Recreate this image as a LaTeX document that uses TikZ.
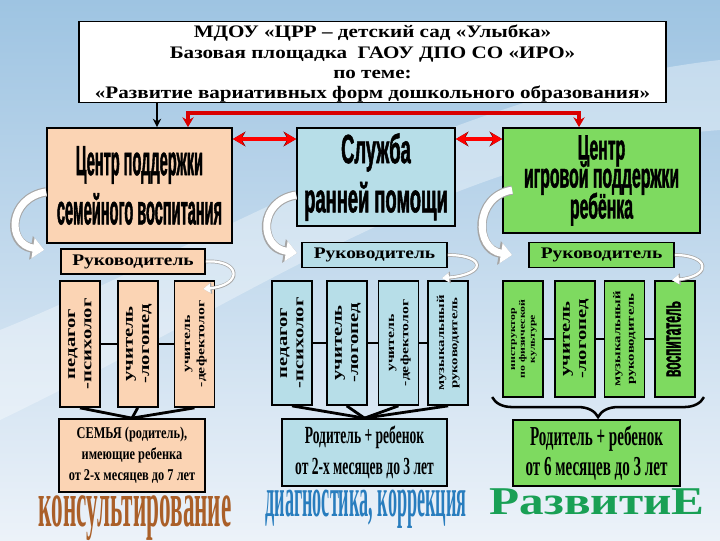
\documentclass[tikz,border=0pt]{standalone}
\usepackage{fontspec}
\usepackage{graphicx}
\usetikzlibrary{arrows.meta, positioning, decorations.pathreplacing}

\setmainfont{Liberation Serif}
\newfontfamily\headfont[FakeStretch=1.2]{Liberation Serif}
\newfontfamily\bigfont[FakeStretch=0.45, BoldFeatures={FakeBold=1.2}]{Liberation Sans}
\newfontfamily\stafffont[FakeStretch=1.4]{Liberation Serif}
\newfontfamily\famfont[FakeStretch=0.75]{Liberation Serif}
\newfontfamily\kidfont[FakeStretch=0.55]{Liberation Serif}
\newfontfamily\widefont[FakeStretch=1.25]{Liberation Serif}

\definecolor{bgtop}{RGB}{158,196,226}
\definecolor{bgbot}{RGB}{236,242,249}
\definecolor{peach}{RGB}{251,212,180}
\definecolor{servblue}{RGB}{183,222,232}
\definecolor{gamegreen}{RGB}{126,218,96}
\definecolor{consbrown}{RGB}{170,95,40}
\definecolor{diagblue}{RGB}{40,125,190}
\definecolor{razvgreen}{RGB}{25,160,85}

\newcommand{\vtext}[1]{\rotatebox{90}{\begin{tabular}{@{}c@{}}#1\end{tabular}}}

\begin{document}
\begin{tikzpicture}[
            x = 0.025cm,
            y = -0.025cm,
            > = Stealth,
            semithick
        ]

        \tikzset{
            box/.style = {draw = black, line width = 1.2pt, inner sep = 0pt, align = center},
            headbox/.style = {box, fill = white, text depth = 0pt, font = {\headfont\bfseries\fontsize{12.5}{14.5}\selectfont}},
            mainbox/.style = {box},
            chiefbox/.style = {box, minimum height = 0.62cm, font = {\headfont\bfseries\fontsize{11.5}{13}\selectfont}},
            staffbox/.style = {box, minimum width = 1cm, font = {\stafffont\bfseries\fontsize{10.5}{11.5}\selectfont}},
            kidbox/.style = {box, font = {\kidfont\bfseries\fontsize{17.5}{22}\selectfont}},
            wordart/.style = {anchor = north, inner sep = 0pt},
            link/.style = {draw = black, line width = 2pt},
            blackarrow/.style = {draw = black, line width = 1.2pt, -{Stealth[length=6pt,width=6pt]}},
            redlink/.style = {draw = red!85!black, line width = 2.6pt, {Stealth[length=7pt,width=8pt]}-{Stealth[length=7pt,width=8pt]}},
            dblred/.style = {draw = red, line width = 2.2pt, {Stealth[length=8pt,width=9pt]}-{Stealth[length=8pt,width=9pt]},
                preaction = {draw = red!50!black, line width = 3.2pt, {Stealth[length=9pt,width=10.5pt]}-{Stealth[length=9pt,width=10.5pt]}}},
            bigcurve/.style = {draw = white, line width = 5pt, -{Triangle[length=8pt,width=14pt]},
                preaction = {draw = gray!70, line width = 6.6pt, -{Triangle[length=9.5pt,width=16.5pt]}}},
            thincurve/.style = {draw = white, line width = 1.6pt, -{Triangle[length=5pt,width=6.5pt]},
                preaction = {draw = gray!70, line width = 2.6pt, -{Triangle[length=6pt,width=8pt]}}},
            brace/.style = {draw = black, line width = 1.8pt, decorate, decoration = {brace, mirror, amplitude = 0.5cm}}
        }

        % background
        \useasboundingbox (0,0) rectangle (720,540);
        \fill[top color = bgtop, bottom color = bgbot] (0,0) rectangle (720,540);
        \fill[white, opacity = 0.35] (0,330) .. controls (200,250) and (450,90) .. (720,60)
            -- (720,130) .. controls (450,150) and (250,300) .. (0,420) -- cycle;

        % title
        \node[headbox, minimum width = 14.675cm, minimum height = 2.025cm] (head) at (372.5,62)
            {МДОУ «ЦРР – детский сад «Улыбка»\\Базовая площадка \ ГАОУ ДПО СО «ИРО»\\по теме:\\«Развитие вариативных форм дошкольного образования»};

        % three services
        \node[mainbox, fill = peach, minimum width = 4.625cm, minimum height = 2.875cm,
              font = {\bigfont\bfseries\fontsize{23}{35}\selectfont\lineskiplimit=-30pt}] (cfam) at (139.5,185.5)
            {\scalebox{1}[1.3]{Центр поддержки}\\\scalebox{1}[1.3]{семейного воспитания}};
        \node[mainbox, fill = servblue, minimum width = 3.95cm, minimum height = 2.45cm,
              font = {\bigfont\bfseries\fontsize{29}{35}\selectfont\lineskiplimit=-30pt}] (serv) at (376,177)
            {Служба\\ранней помощи};
        \node[mainbox, fill = gamegreen, minimum width = 4.925cm, minimum height = 2.625cm,
              font = {\bigfont\bfseries\fontsize{25}{20}\selectfont\lineskiplimit=-30pt}] (cgame) at (601.5,180.5)
            {Центр\\игровой поддержки\\[2pt]ребёнка};

        \node[chiefbox, fill = peach, minimum width = 3.6cm] (chief1) at (133,261.5) {Руководитель};
        \node[chiefbox, fill = servblue, minimum width = 3.625cm] (chief2) at (374.5,255) {Руководитель};
        \node[chiefbox, fill = gamegreen, minimum width = 3.625cm] (chief3) at (601.5,255) {Руководитель};

        % staff
        \node[staffbox, fill = peach, minimum height = 3.15cm] (l1) at (80,344) {\vtext{педагог\\-психолог}};
        \node[staffbox, fill = peach, minimum height = 3.15cm] (l2) [right = 0.4cm of l1] {\vtext{учитель\\-логопед}};
        \node[staffbox, fill = peach, minimum height = 3.15cm, font = {\stafffont\bfseries\fontsize{8}{10}\selectfont}]
            (l3) [right = 0.375cm of l2] {\vtext{учитель\\-дефектолог}};

        \node[staffbox, fill = servblue, minimum height = 3.1cm] (m1) at (292,343) {\vtext{педагог\\-психолог}};
        \node[staffbox, fill = servblue, minimum height = 3.1cm] (m2) [right = 0.325cm of m1] {\vtext{учитель\\-логопед}};
        \node[staffbox, fill = servblue, minimum height = 3.1cm, font = {\stafffont\bfseries\fontsize{8}{10}\selectfont}]
            (m3) [right = 0.25cm of m2] {\vtext{учитель\\-дефектолог}};
        \node[staffbox, fill = servblue, minimum height = 3.1cm, font = {\stafffont\bfseries\fontsize{7.5}{9.5}\selectfont}]
            (m4) [right = 0.2cm of m3] {\vtext{музыкальный\\руководитель}};

        \node[staffbox, fill = gamegreen, minimum height = 2.9cm, font = {\stafffont\bfseries\fontsize{6}{7}\selectfont}]
            (r1) at (523,339) {\vtext{инструктор\\по физической\\культуре}};
        \node[staffbox, fill = gamegreen, minimum height = 2.9cm] (r2) [right = 0.25cm of r1] {\vtext{учитель\\-логопед}};
        \node[staffbox, fill = gamegreen, minimum height = 2.9cm, font = {\stafffont\bfseries\fontsize{7.5}{9.5}\selectfont}]
            (r3) [right = 0.2cm of r2] {\vtext{музыкальный\\руководитель}};
        \node[staffbox, fill = gamegreen, minimum height = 2.9cm, font = {\bigfont\bfseries\fontsize{19}{20}\selectfont}]
            (r4) [right = 0.225cm of r3] {\vtext{воспитатель}};

        % who comes
        \node[box, fill = peach, minimum width = 3.65cm, minimum height = 1.825cm,
              font = {\famfont\bfseries\fontsize{11.7}{15}\selectfont}] (fam) at (132,455.5)
            {СЕМЬЯ (родитель),\\имеющие ребенка\\от 2-х месяцев до 7 лет};
        \node[kidbox, fill = servblue, minimum width = 4.125cm, minimum height = 1.675cm] (par1) at (364.5,452.5)
            {Родитель + ребенок\\от 2-х месяцев до 3 лет};
        \node[kidbox, fill = gamegreen, minimum width = 4.175cm, minimum height = 1.65cm,
              font = {\kidfont\bfseries\fontsize{19.5}{21}\selectfont}] (par2) at (596.5,453)
            {Родитель + ребенок\\от 6 месяцев до 3 лет};

        \node[wordart, font = {\kidfont\bfseries\fontsize{30}{30}\selectfont}, text = consbrown] (cons) at (135,495)
            {\scalebox{1}[1.55]{консультирование}};
        \node[wordart, font = {\kidfont\bfseries\fontsize{23.5}{24}\selectfont}, text = diagblue] (diag) at (366,490)
            {\scalebox{1}[1.7]{диагностика, коррекция}};
        \node[wordart, font = {\widefont\bfseries\fontsize{28}{28}\selectfont}, text = razvgreen] (razv) at (597,488)
            {РазвитиЕ};

        % arrows from the title
        \coordinate (ba) at (157,0);
        \coordinate (rl) at (188,113);
        \coordinate (rr) at (579,113);
        \coordinate (dr) at (0,139);
        \draw[blackarrow] (head.south -| ba) -- (cfam.north -| ba);
        \draw[redlink] (cfam.north -| rl) -- (rl) -- (rr) -- (cgame.north -| rr);
        \draw[dblred] (cfam.east |- dr) -- (serv.west |- dr);
        \draw[dblred] (serv.east |- dr) -- (cgame.west |- dr);

        % staff lines
        \foreach \a/\b in {l1/l2, l2/l3, m1/m2, m2/m3, m3/m4, r1/r2, r2/r3, r3/r4}
            \draw[link] (\a) -- (\b);
        \foreach \s in {l1, l2, l3}
            \draw[link] (\s.south) -- (fam.north);
        \foreach \s in {m1, m2, m3, m4}
            \draw[link] (\s.south) -- (par1.north);
        \draw[brace] ([xshift = -0.25cm, yshift = 0.02cm]r1.south west) -- ([xshift = 0.2cm, yshift = 0.02cm]r4.south east);

        % curved arrows
        \draw[bigcurve] ([yshift = -0.16cm]cfam.west) .. controls +(-38,6) and +(-38,-6) ..
            ([xshift = -0.4cm, yshift = 0.29cm]chief1.west);
        \draw[bigcurve] ([yshift = -0.45cm]serv.west) .. controls +(-38,6) and +(-38,-6) ..
            ([xshift = -0.1cm, yshift = 0.05cm]chief2.west);
        \draw[bigcurve] ([xshift = 0.25cm, yshift = -0.24cm]cgame.west) .. controls +(-38,6) and +(-38,-6) ..
            ([xshift = -0.4cm]chief3.west);
        \draw[thincurve] (chief1.east) .. controls +(35,-2) and +(40,-4) ..
            ([xshift = -0.3cm, yshift = -0.22cm]l3.north east);
        \draw[thincurve] (chief2.east) .. controls +(38,0) and +(45,-4) ..
            ([xshift = -0.675cm, yshift = 0.05cm]m4.north east);
        \draw[thincurve] (chief3.east) .. controls +(35,0) and +(40,-4) ..
            ([xshift = -0.6cm]r4.north east);

    \end{tikzpicture}
\end{document}
